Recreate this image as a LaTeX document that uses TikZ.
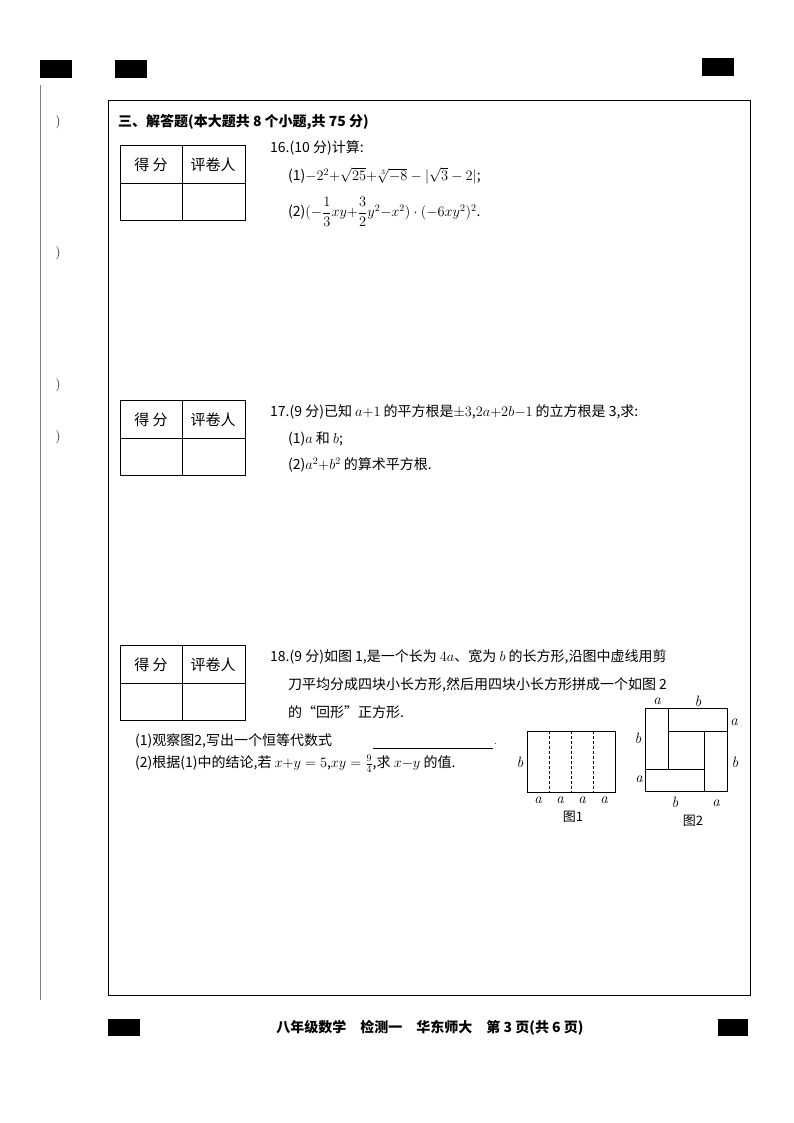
\documentclass[tikz,border=0pt]{standalone}
\usepackage{fontspec}
\usepackage{amsmath}
\newfontfamily\cjk{Noto Sans CJK SC}
\begin{document}
\begin{tikzpicture}[x=1pt,y=-1pt,
  txt/.style={anchor=west,inner sep=0pt,font=\cjk\fontsize{14}{16}\selectfont},
  lab/.style={inner sep=0pt,font=\itshape\fontsize{15}{16}\selectfont}]
\useasboundingbox (0,0) rectangle (794,1123);
\fill[white] (0,0) rectangle (794,1123);
% black marks
\fill (40,60) rectangle (72,78);
\fill (115,60) rectangle (147,78);
\fill (702,58) rectangle (734,76);
\fill (108,1019) rectangle (140,1036);
\fill (718,1019) rectangle (748,1036);
\draw[gray] (40,85) -- (40,1000);
\foreach \yy in {122,253,385,437} \node[inner sep=0pt,font=\fontsize{13}{14}\selectfont] at (58,\yy) {)};
% frame
\draw[line width=0.8pt] (108,100) rectangle (750,995);
\node[txt,font=\cjk\bfseries\fontsize{14}{16}\selectfont] (h) at (118,122) {三、解答题(本大题共 8 个小题,共 75 分)};
% score tables
\foreach \t in {145,400,645}{
  \draw[line width=0.8pt] (120,\t) rectangle (245,\t+75);
  \draw (120,\t+38) -- (245,\t+38);
  \draw (182,\t) -- (182,\t+75);
  \node[inner sep=0pt,font=\cjk\fontsize{15}{16}\selectfont] at (151,\t+20) {得\ 分};
  \node[inner sep=0pt,font=\cjk\fontsize{15}{16}\selectfont] at (213,\t+20) {评卷人};
}
% Q16
\node[txt] (q16) at (270,148) {16.(10 分)计算:};
\node[txt] (q16a) at (288,176) {(1)$-2^2{+}\sqrt{25}{+}\sqrt[3]{-8}-|\sqrt{3}-2|$;};
\node[txt] (q16b) at (288,212) {(2)$(-\dfrac{1}{3}xy{+}\dfrac{3}{2}y^2{-}x^2)\cdot(-6xy^2)^2$.};
% Q17
\node[txt] (q17) at (270,412) {17.(9 分)已知 $a{+}1$ 的平方根是$\pm3$,$2a{+}2b{-}1$ 的立方根是 3,求:};
\node[txt] (q17a) at (288,439) {(1)$a$ 和 $b$;};
\node[txt] (q17b) at (288,465) {(2)$a^2{+}b^2$ 的算术平方根.};
% Q18
\node[txt] (q18) at (270,657) {18.(9 分)如图 1,是一个长为 $4a$、宽为 $b$ 的长方形,沿图中虚线用剪};
\node[txt] (q18b) at (288,685) {刀平均分成四块小长方形,然后用四块小长方形拼成一个如图 2};
\node[txt] (q18c) at (288,712) {的“回形”正方形.};
\node[txt] (q18d) at (135,741) {(1)观察图2,写出一个恒等代数式};
\draw (373,748) -- (493,748);
\node[inner sep=0pt,anchor=west] at (494,744) {.};
\node[txt] (q18e) at (135,764) {(2)根据(1)中的结论,若 $x{+}y=5$,$xy=\tfrac{9}{4}$,求 $x{-}y$ 的值.};
% fig1
\draw (527,731) rectangle (615,792);
\foreach \xx in {549,571,593} \draw[densely dashed] (\xx,731) -- (\xx,792);
\node[lab] at (520,762) {b};
\foreach \xx in {538,560,582,604} \node[lab] at (\xx,800) {a};
\node[inner sep=0pt,font=\cjk\fontsize{13}{14}\selectfont] at (573,817) {图1};
% fig2
\draw (645,708) rectangle (727,791);
\draw (668,708) -- (668,769);
\draw (668,731) -- (727,731);
\draw (704,731) -- (704,791);
\draw (645,769) -- (704,769);
\node[lab] at (657,701) {a};
\node[lab] at (698,701) {b};
\node[lab] at (734,722) {a};
\node[lab] at (638,738) {b};
\node[lab] at (735,762) {b};
\node[lab] at (639,779) {a};
\node[lab] at (675,802) {b};
\node[lab] at (716,803) {a};
\node[inner sep=0pt,font=\cjk\fontsize{13}{14}\selectfont] at (693,821) {图2};
% footer
\node[inner sep=0pt,font=\cjk\bfseries\fontsize{14}{16}\selectfont] at (430,1028) {八年级数学\quad 检测一\quad 华东师大\quad 第 3 页(共 6 页)};
\end{tikzpicture}
\end{document}
